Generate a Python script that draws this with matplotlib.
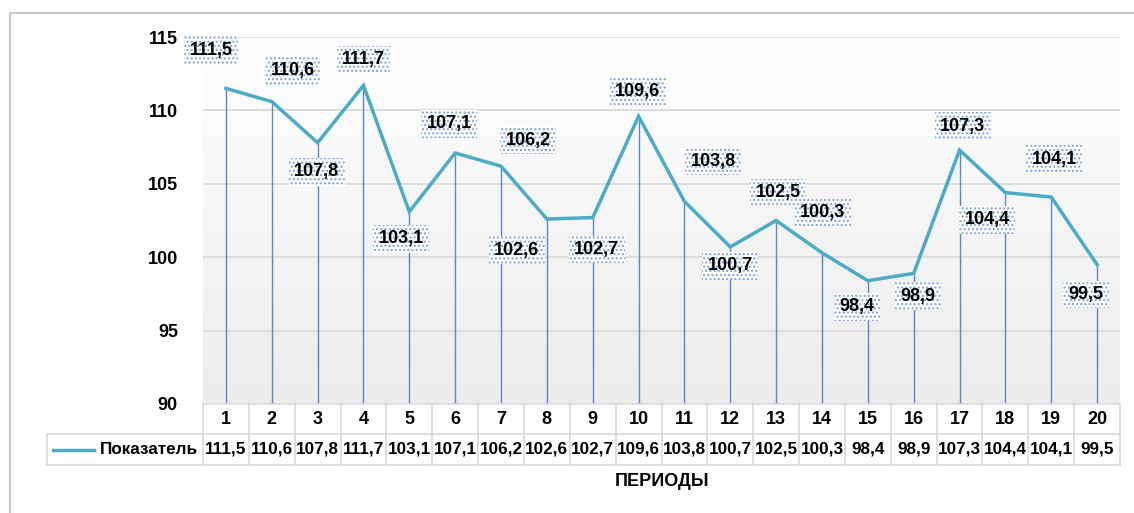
import matplotlib
matplotlib.use("Agg")
import matplotlib.pyplot as plt
import matplotlib.transforms as mtransforms
from matplotlib.patches import Rectangle
from matplotlib.lines import Line2D
from matplotlib.colors import LinearSegmentedColormap
import numpy as np
from matplotlib import font_manager

periods = list(range(1, 21))
values = [111.5, 110.6, 107.8, 111.7, 103.1, 107.1, 106.2, 102.6, 102.7, 109.6,
          103.8, 100.7, 102.5, 100.3, 98.4, 98.9, 107.3, 104.4, 104.1, 99.5]
value_labels = ["111,5", "110,6", "107,8", "111,7", "103,1", "107,1", "106,2", "102,6", "102,7", "109,6",
                "103,8", "100,7", "102,5", "100,3", "98,4", "98,9", "107,3", "104,4", "104,1", "99,5"]
series_name = "Показатель"
x_title = "ПЕРИОДЫ"
y_ticks = [90, 95, 100, 105, 110, 115]

# label offsets in pixels (dx, dy)
label_offsets = [(-15, 38), (21, 31), (-1, -29), (0, 26), (-8, -27), (-6, 29), (27, 26), (-30, -31),
                 (4, -32), (-1, 25), (29, 40), (0, -19), (2, 28), (1, 40), (-11, -26), (4, -23),
                 (3, 24), (-18, -27), (3, 38), (-11, -30)]

names = {f.name for f in font_manager.fontManager.ttflist}
FONT = ["Liberation Sans Narrow"] if "Liberation Sans Narrow" in names else ["Liberation Sans"]
plt.rcParams['font.family'] = FONT + ["DejaVu Sans"]
FS = 13
FT = 12.3

W, H = 1134, 513
fig = plt.figure(figsize=(W / 100, H / 100), dpi=100)
L, R, B, T = 203, 1120, 404, 37
ax = fig.add_axes([L / W, 1 - B / H, (R - L) / W, (B - T) / H])

# outer chart border
fig.patches.append(Rectangle((10 / W, -0.1), 1.2, 1 - 13 / H + 0.1, transform=fig.transFigure,
                             fill=False, edgecolor="#bfbfbf", linewidth=1.2))

# gradient background (white at top, light gray at bottom)
grad = np.linspace(0, 1, 256).reshape(-1, 1)
cmap = LinearSegmentedColormap.from_list("g", ["#ececec", "#ffffff"])
ax.imshow(grad, extent=[0, 1, 0, 1], origin="lower", transform=ax.transAxes, cmap=cmap,
          aspect="auto", zorder=0)

ax.set_xlim(0.5, 20.5)
ax.set_ylim(90, 115)
ax.set_yticks(y_ticks)
ax.set_yticklabels([str(t) for t in y_ticks], fontsize=FS, fontweight="bold")
ax.tick_params(axis="y", length=0, pad=18)
ax.set_xticks([])
for s in ax.spines.values():
    s.set_visible(False)
for t in y_ticks[1:]:
    ax.axhline(t, color="#d9d9d9", linewidth=1.2, zorder=1)

# drop lines
ax.vlines(periods, 90, values, color="#5b87c8", linewidth=1.0, zorder=2)
ax.plot(periods, values, color="#4bacc6", linewidth=2.5, zorder=3, solid_joinstyle="miter")

for x, v, lab, (dx, dy) in zip(periods, values, value_labels, label_offsets):
    ax.annotate(lab, (x, v), xytext=(dx, dy), textcoords="offset pixels", ha="center", va="center",
                fontsize=FS, fontweight="bold", zorder=5,
                bbox=dict(boxstyle="square,pad=0.3", facecolor="white", edgecolor="#7fa2d8",
                          hatch="....", linewidth=0))

# data table
trans = mtransforms.blended_transform_factory(ax.transData, ax.transAxes)
ah = B - T
r1 = -30 / ah
r2 = -61 / ah
gc = "#d9d9d9"
lw = 1.2
left_cell = -(L - 47) / (R - L)
ax.add_line(Line2D([0.5, 20.5], [0, 0], transform=trans, color=gc, lw=lw, clip_on=False))
ax.add_line(Line2D([left_cell, 1], [r1, r1], transform=ax.transAxes, color=gc, lw=lw, clip_on=False))
ax.add_line(Line2D([left_cell, 1], [r2, r2], transform=ax.transAxes, color=gc, lw=lw, clip_on=False))
ax.add_line(Line2D([left_cell, left_cell], [r1, r2], transform=ax.transAxes, color=gc, lw=lw, clip_on=False))
for xb in np.arange(0.5, 21.5, 1.0):
    ax.add_line(Line2D([xb, xb], [0, r2], transform=trans, color=gc, lw=lw, clip_on=False))
for x, lab in zip(periods, value_labels):
    ax.text(x, r1 / 2, str(x), transform=trans, ha="center", va="center", fontsize=FS, fontweight="bold")
    ax.text(x, (r1 + r2) / 2, lab, transform=trans, ha="center", va="center", fontsize=FT, fontweight="bold")
# legend cell
ax.add_line(Line2D([-(L - 53) / (R - L), -(L - 94) / (R - L)], [(r1 + r2) / 2] * 2, transform=ax.transAxes,
                   color="#4bacc6", lw=2.5, clip_on=False))
ax.text(-(L - 198) / (R - L), (r1 + r2) / 2, series_name, transform=ax.transAxes, ha="right", va="center",
        fontsize=FT, fontweight="bold")

ax.text(0.5, -(482 - B) / ah, x_title, transform=ax.transAxes, ha="center", va="center",
        fontsize=FS, fontweight="bold")

fig.savefig("out.png", dpi=100)
